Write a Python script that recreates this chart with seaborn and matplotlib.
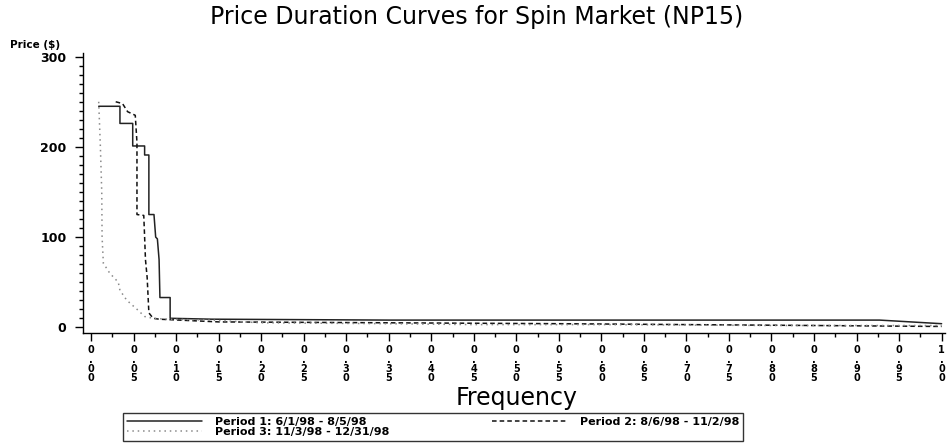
import matplotlib
matplotlib.use("Agg")
import matplotlib.pyplot as plt
import seaborn as sns
import pandas as pd
from matplotlib.ticker import MultipleLocator, FixedLocator

# Price duration curves: share of hours (frequency) at or above each price
p1_freq = [0.009, 0.034, 0.034, 0.049, 0.049, 0.063, 0.063, 0.068, 0.068, 0.074,
           0.076, 0.078, 0.080, 0.081, 0.093, 0.093, 0.142, 0.350, 0.927, 1.000]
p1_price = [245, 245, 226, 226, 201, 201, 191, 191, 125, 125,
            100, 98, 75, 33, 33, 10, 9, 8, 8, 4]

p2_freq = [0.029, 0.037, 0.043, 0.052, 0.054, 0.054, 0.062, 0.063, 0.064, 0.066,
           0.068, 0.073, 0.080, 0.150, 0.350, 0.550, 0.700, 0.850, 0.990, 1.000]
p2_price = [250, 248, 239, 235, 205, 125, 124, 100, 75, 55,
            16, 10, 9, 6, 5, 4, 3, 2, 1, 1]

p3_freq = [0.009, 0.011, 0.0126, 0.013, 0.0145, 0.022, 0.032, 0.034, 0.042, 0.054,
           0.063, 0.073, 0.090, 0.140, 0.200, 0.350, 0.450, 0.600, 0.800, 1.000]
p3_price = [250, 200, 150, 100, 71, 60, 50, 41, 30, 20,
            12, 10, 9, 8, 5, 4, 3, 3, 2, 2]

period_labels = ["Period 1: 6/1/98 - 8/5/98",
                 "Period 2: 8/6/98 - 11/2/98",
                 "Period 3: 11/3/98 - 12/31/98"]

x_ticks = [round(0.05 * i, 2) for i in range(21)]
y_ticks = [0, 100, 200, 300]

sns.set_style("white")
plt.rcParams["font.family"] = ["DejaVu Sans"]
plt.rcParams["text.color"] = "black"
plt.rcParams["axes.labelcolor"] = "black"
plt.rcParams["xtick.color"] = "black"
plt.rcParams["ytick.color"] = "black"

fig = plt.figure(figsize=(9.49, 4.45), dpi=100)
ax = fig.add_axes([0.0875, 0.2517, 0.9083, 0.6299])

series = [
    (p1_freq, p1_price, period_labels[0], "#222222", "-"),
    (p2_freq, p2_price, period_labels[1], "#111111", (0, (3, 2))),
    (p3_freq, p3_price, period_labels[2], "#8a8a8a", (0, (1, 2.5))),
]
handles = {}
for fr, pr, lab, col, ls in series:
    df = pd.DataFrame({"freq": fr, "price": pr})
    sns.lineplot(data=df, x="freq", y="price", sort=False, estimator=None,
                 color=col, linestyle=ls, linewidth=1.1, ax=ax, label=lab)
    handles[lab] = ax.lines[-1]
ax.get_legend().remove()

ax.set_xlim(-0.0094, 1.004)
ax.set_ylim(-6.3, 304.4)

for side in ["top", "right"]:
    ax.spines[side].set_visible(False)
for side in ["left", "bottom"]:
    ax.spines[side].set_color("black")
    ax.spines[side].set_linewidth(1.0)

ax.xaxis.set_major_locator(FixedLocator(x_ticks))
ax.xaxis.set_minor_locator(MultipleLocator(0.025))
ax.set_xticklabels(["\n".join(f"{v:.2f}") for v in x_ticks],
                   fontsize=7, fontweight="bold", linespacing=0.9)
ax.yaxis.set_major_locator(FixedLocator(y_ticks))
ax.yaxis.set_minor_locator(MultipleLocator(10))
ax.set_yticklabels([str(v) for v in y_ticks], fontsize=9, fontweight="bold")

ax.tick_params(axis="both", which="major", direction="out", length=6, width=1,
               color="black", bottom=True, left=True)
ax.tick_params(axis="both", which="minor", direction="out", length=3, width=1,
               color="black", bottom=True, left=True)
ax.tick_params(axis="x", which="major", pad=3)
ax.tick_params(axis="y", which="major", pad=6)

ax.set_xlabel("")
ax.set_ylabel("")
fig.text(517 / 949, 1 - 398 / 445, "Frequency", fontsize=17, color="black",
         ha="center", va="center")
fig.text(0.011, 0.888, "Price ($)", fontsize=7.5, fontweight="bold",
         ha="left", va="bottom")
fig.text(0.502, 1 - 17 / 445, "Price Duration Curves for Spin Market (NP15)",
         fontsize=17, color="black", ha="center", va="center")

order = [period_labels[0], period_labels[2], period_labels[1]]
leg = fig.legend([handles[k] for k in order], order, ncol=2,
                 loc="lower left", bbox_to_anchor=(123 / 949, 4 / 445),
                 prop={"weight": "bold", "size": 8},
                 frameon=True, fancybox=False, edgecolor="black",
                 handlelength=6.75, borderpad=0.35, labelspacing=0.0,
                 handletextpad=1.2, columnspacing=9.2, borderaxespad=0)
leg.get_frame().set_linewidth(1.0)

fig.savefig("out.png", dpi=100)
